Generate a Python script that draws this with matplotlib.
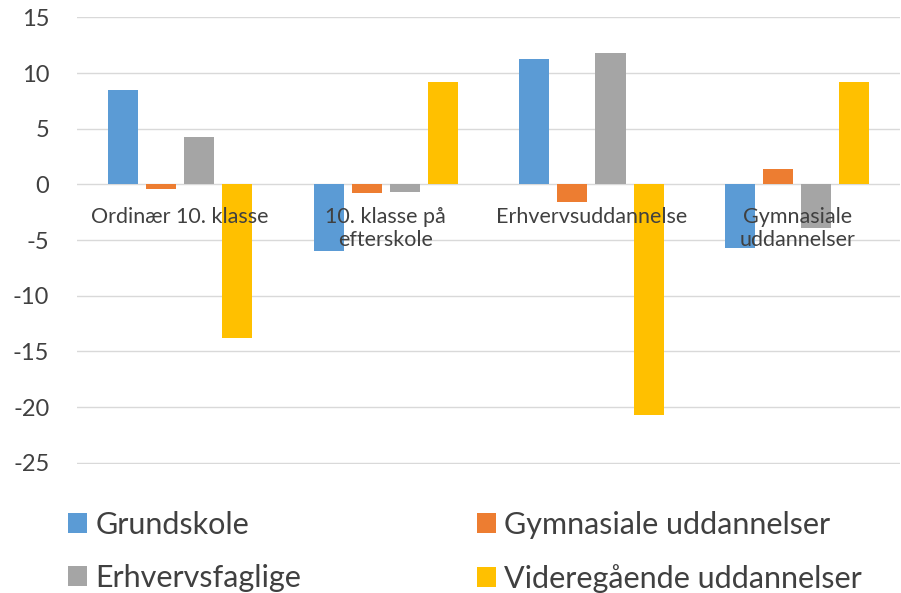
import numpy as np
import matplotlib
matplotlib.use('Agg')
import matplotlib.pyplot as plt

plt.rcParams['font.family'] = ['Lato', 'DejaVu Sans']

# data
categories = ['Ordinær 10. klasse', '10. klasse på\nefterskole',
              'Erhvervsuddannelse', 'Gymnasiale\nuddannelser']
series = ['Grundskole', 'Gymnasiale uddannelser',
          'Erhvervsfaglige', 'Videregående uddannelser']
grundskole = [8.5, -6.0, 11.3, -5.7]
gymnasiale = [-0.4, -0.75, -1.6, 1.35]
erhvervsfaglige = [4.3, -0.7, 11.8, -3.9]
videregaaende = [-13.8, 9.2, -20.7, 9.2]
colors = ['#5B9BD5', '#ED7D31', '#A5A5A5', '#FFC000']
yticks = [15, 10, 5, 0, -5, -10, -15, -20, -25]

values = [grundskole, gymnasiale, erhvervsfaglige, videregaaende]

fig = plt.figure(figsize=(9.01, 5.93), dpi=100)
ax = fig.add_axes([0.0855, 0.217, 0.9135, 0.7545])

x = np.arange(len(categories))
w = 0.146
step = 0.185
bars = []
for i, (name, vals) in enumerate(zip(series, values)):
    b = ax.bar(x + (i - 1.5) * step, vals, width=w, color=colors[i],
               label=name, zorder=3)
    bars.append(b)

ax.set_ylim(-25.15, 15.05)
ax.set_xlim(-0.5, len(categories) - 0.5)
ax.set_yticks(yticks)
ax.set_yticklabels([str(t) for t in yticks], fontsize=17, color='#404040')
ax.set_xticks([])
ax.grid(axis='y', color='#D9D9D9', linewidth=1, zorder=0)
ax.tick_params(axis='y', length=0, pad=20)
for s in ax.spines.values():
    s.set_visible(False)

for i, c in enumerate(categories):
    ax.text(i, -2.0, c, ha='center', va='top', fontsize=15.5,
            color='#404040', linespacing=1.2, zorder=4)

# legend filled row by row like the original
order = [0, 2, 1, 3]
fig.legend([bars[k] for k in order], [series[k] for k in order],
           loc='lower left', bbox_to_anchor=(0.0755, 0.0), ncol=2,
           frameon=False, fontsize=22, handlelength=0.62, handleheight=0.62,
           handletextpad=0.27, columnspacing=5.75, labelspacing=0.83,
           borderpad=0, borderaxespad=0, labelcolor='#404040')

fig.savefig('out.png', dpi=100)
